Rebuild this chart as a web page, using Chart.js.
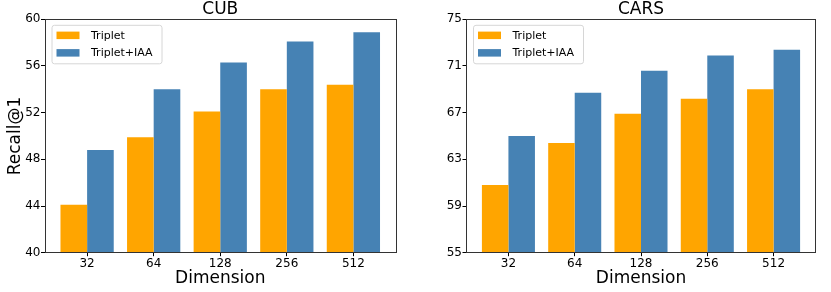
<!DOCTYPE html>
<html>
<head>
<meta charset="utf-8">
<script src="https://cdn.jsdelivr.net/npm/chart.js@4"></script>
<style>
  html, body { margin: 0; padding: 0; background: #fff; }
  #wrap { position: relative; width: 831px; height: 292px; }
  canvas { position: absolute; top: 0; }
</style>
</head>
<body>
<div id="wrap">
  <canvas id="cub" width="415" height="292" style="left:0px"></canvas>
  <canvas id="cars" width="416" height="292" style="left:415px"></canvas>
</div>
<script>
const categories = ['32', '64', '128', '256', '512'];
const seriesNames = ['Triplet', 'Triplet+IAA'];
const cubTriplet = [44.1, 49.9, 52.1, 54.0, 54.4];
const cubIAA = [48.8, 54.0, 56.3, 58.1, 58.9];
const carsTriplet = [60.8, 64.4, 66.9, 68.2, 69.0];
const carsIAA = [65.0, 68.7, 70.6, 71.9, 72.4];
const cubTicks = [40, 44, 48, 52, 56, 60];
const carsTicks = [55, 59, 63, 67, 71, 75];
const titles = ['CUB', 'CARS'];
const xTitle = 'Dimension';
const yTitle = 'Recall@1';

const ORANGE = '#FFA500';
const BLUE = '#4682B4';
const FONT = "'DejaVu Sans', sans-serif";

Chart.defaults.font.family = FONT;
Chart.defaults.color = '#000';

const framePlugin = {
  id: 'frame',
  afterDatasetsDraw(chart) {
    const { ctx, chartArea: a } = chart;
    ctx.save();
    ctx.strokeStyle = '#333';
    ctx.lineWidth = 1;
    ctx.strokeRect(Math.round(a.left) + 0.5, Math.round(a.top) + 0.5,
      Math.round(a.right - a.left) - 1, Math.round(a.bottom - a.top));
    ctx.restore();
  }
};

const legendPlugin = {
  id: 'innerLegend',
  afterDraw(chart) {
    const { ctx, chartArea: a } = chart;
    const fx = a.left + 7, fy = a.top + 5.5, fw = 110, fh = 38.5;
    ctx.save();
    ctx.beginPath();
    if (ctx.roundRect) ctx.roundRect(fx + 0.5, fy + 0.5, fw, fh, 2.5);
    else ctx.rect(fx + 0.5, fy + 0.5, fw, fh);
    ctx.fillStyle = 'rgba(255,255,255,0.8)';
    ctx.fill();
    ctx.strokeStyle = '#d6d6d6';
    ctx.lineWidth = 1;
    ctx.stroke();
    ctx.font = '11px ' + FONT;
    ctx.textBaseline = 'middle';
    chart.data.datasets.forEach((ds, i) => {
      const cy = fy + 10.5 + i * 17.5;
      ctx.fillStyle = ds.backgroundColor;
      ctx.fillRect(fx + 5, cy - 3.7, 23, 7.5);
      ctx.fillStyle = '#000';
      ctx.fillText(ds.label, fx + 39.5, cy + 0.5);
    });
    ctx.restore();
  }
};

function makeChart(id, title, triplet, iaa, yTicks, yAxisWidth, padRight, showYTitle) {
  const toPts = arr => arr.map((v, i) => ({ x: i, y: v }));
  return new Chart(document.getElementById(id), {
    type: 'bar',
    data: {
      datasets: [
        { label: seriesNames[0], data: toPts(triplet), backgroundColor: ORANGE,
          borderWidth: 0, categoryPercentage: 0.8, barPercentage: 1.0 },
        { label: seriesNames[1], data: toPts(iaa), backgroundColor: BLUE,
          borderWidth: 0, categoryPercentage: 0.8, barPercentage: 1.0 }
      ]
    },
    options: {
      responsive: false,
      animation: false,
      events: [],
      layout: { padding: { top: 0, right: padRight, bottom: 0, left: 0 } },
      plugins: {
        legend: { display: false },
        tooltip: { enabled: false },
        title: {
          display: true, text: title, fullSize: false,
          font: { size: 17, family: FONT, weight: 'normal', lineHeight: 1 },
          color: '#000', padding: { top: 1, bottom: 1.3 }
        }
      },
      scales: {
        x: {
          type: 'linear', min: -0.64, max: 4.64, offset: false,
          afterBuildTicks: ax => { ax.ticks = categories.map((c, i) => ({ value: i })); },
          afterFit: s => { s.height = 39.3; },
          ticks: {
            font: { size: 12, family: FONT }, color: '#000', padding: 0,
            maxRotation: 0, autoSkip: false,
            callback: v => categories[v]
          },
          grid: { display: true, offset: false, drawOnChartArea: false, tickLength: 3.5, color: '#000' },
          border: { display: false },
          title: {
            display: true, text: xTitle, color: '#000',
            font: { size: 17, family: FONT }, padding: { top: 0, bottom: 3 }
          }
        },
        y: {
          type: 'linear', min: yTicks[0], max: yTicks[yTicks.length - 1],
          afterBuildTicks: ax => { ax.ticks = yTicks.map(v => ({ value: v })); },
          afterFit: s => { s.width = yAxisWidth; },
          ticks: { font: { size: 12, family: FONT }, color: '#000', padding: 0.5 },
          grid: { display: true, offset: false, drawOnChartArea: false, tickLength: 3.5, color: '#000' },
          border: { display: false },
          title: {
            display: showYTitle, text: yTitle, color: '#000',
            font: { size: 17, family: FONT }, padding: { top: 5, bottom: 0 }
          }
        }
      }
    },
    plugins: [framePlugin, legendPlugin]
  });
}

makeChart('cub', titles[0], cubTriplet, cubIAA, cubTicks, 44.5, 19, true);
makeChart('cars', titles[1], carsTriplet, carsIAA, carsTicks, 51, 15, false);
</script>
</body>
</html>
